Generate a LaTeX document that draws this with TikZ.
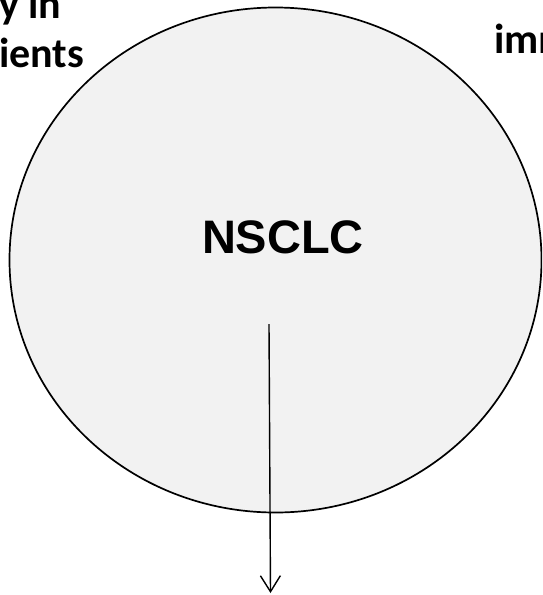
\documentclass[tikz,border=0pt]{standalone}
\usepackage{fontspec}
\usetikzlibrary{shapes.geometric,arrows.meta}
\newfontfamily\labelfont{Carlito}
\newfontfamily\titlefont{Liberation Sans}
\begin{document}
\begin{tikzpicture}[x=1pt,y=-1pt,
  disc/.style={ellipse, draw=black, line width=1.7pt, fill=discgray,
    minimum width=532pt, minimum height=505pt, inner sep=0pt},
  sidelabel/.style={font=\labelfont\bfseries\fontsize{42}{50}\selectfont, inner sep=0pt},
  maintitle/.style={font=\titlefont\bfseries\fontsize{47}{56}\selectfont, inner sep=0pt},
  pointer/.style={line width=1.4pt, -{Straight Barb[length=16pt,width=20pt,line width=1.4pt]}}]
\definecolor{discgray}{HTML}{F2F2F2}
\useasboundingbox (0,0) rectangle (542,595);
\clip (0,0) rectangle (542,595);
% the large disc
\node[disc] (disc) at (275.5,260) {};
% centre label
\node[maintitle, anchor=base] (title) at (283,253) {NSCLC};
% partly cut-off labels at the top corners
\node[sidelabel, anchor=base west] (leftA) at (-1,18) {y in};
\node[sidelabel, anchor=base west] (leftB) at (-1,67) {ients};
\node[sidelabel, anchor=base west] (rightA) at (494,53) {imm};
% downward pointer
\coordinate (pstart) at (269,324);
\coordinate (pend) at (270.5,593);
\draw[pointer] (pstart) -- (pend);
\end{tikzpicture}
\end{document}
